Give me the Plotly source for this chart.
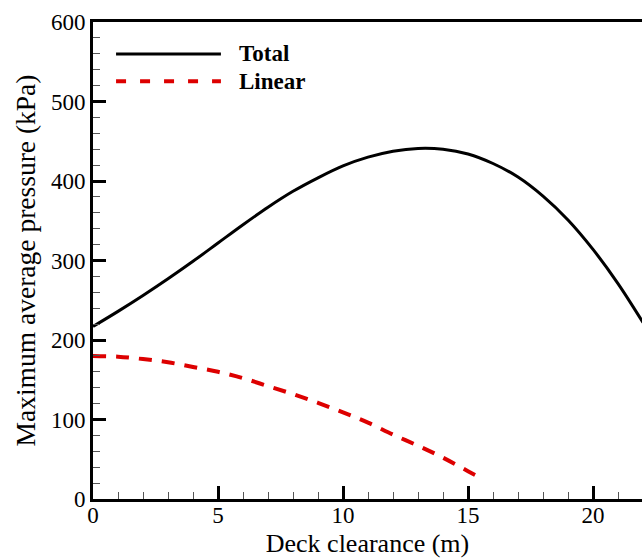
import plotly.graph_objects as go

# Data
total_x = [0, 1, 2, 3, 4, 5, 6, 7, 8, 9, 10, 11, 12, 13, 14, 15, 16, 17, 18, 19, 20, 21, 22]
total_y = [217, 236, 256, 277, 299, 322, 345, 367, 387, 404, 419, 430, 437.5, 441, 440, 434,
           422, 405, 381, 351, 314, 271, 222]

linear_x = [0, 1, 2, 3, 4, 5, 6, 7, 8, 9, 10, 11, 12, 13, 14, 15, 15.3]
linear_y = [180, 179, 176, 172, 166, 160, 152, 142, 132, 121, 109, 96, 81, 67, 52, 35, 30]

x_ticks = [0, 5, 10, 15, 20]
y_ticks = [0, 100, 200, 300, 400, 500, 600]

FONT = "Liberation Serif, Times New Roman, serif"
RED = "#dd0000"

fig = go.Figure()
fig.add_trace(go.Scatter(x=total_x, y=total_y, mode="lines", name="Total",
                         line=dict(color="black", width=3, shape="spline", smoothing=1.0)))
fig.add_trace(go.Scatter(x=linear_x, y=linear_y, mode="lines", name="Linear",
                         line=dict(color=RED, width=4, dash="13px,10px", shape="spline")))

axis_common = dict(
    showgrid=False, zeroline=False, showline=True, linecolor="black", linewidth=3,
    ticks="inside", ticklen=13, tickwidth=3, tickcolor="black",
    tickfont=dict(family=FONT, size=23, color="black"),
)

fig.update_xaxes(
    range=[0, 21.96], tickvals=x_ticks, mirror=True, ticklabelstandoff=-7,
    minor=dict(dtick=1, ticks="inside", ticklen=7, tickwidth=1, tickcolor="#555"),
    title_text="Deck clearance (m)", title_standoff=8,
    title_font=dict(family=FONT, size=26, color="black"), **axis_common)
fig.update_yaxes(
    range=[0, 600], tickvals=y_ticks,
    minor=dict(dtick=20, ticks="inside", ticklen=7, tickwidth=1, tickcolor="#555"),
    title_text="Maximum average pressure (kPa)", title_standoff=8,
    title_font=dict(family=FONT, size=27.5, color="black"), **axis_common)

# Legend drawn in the upper-left corner of the plot area
legend_items = [("Total", "black", 3, "solid", 0.933), ("Linear", RED, 4, "10px,14px", 0.876)]
for label, color, width, dash, yp in legend_items:
    fig.add_shape(type="line", xref="paper", yref="paper", x0=0.042, x1=0.233, y0=yp, y1=yp,
                  line=dict(color=color, width=width, dash=dash))
    fig.add_annotation(xref="paper", yref="paper", x=0.262, y=yp, text="<b>%s</b>" % label,
                       showarrow=False, xanchor="left", yanchor="middle",
                       font=dict(family=FONT, size=23, color="black"))

fig.update_layout(
    width=642, height=559, showlegend=False,
    margin=dict(l=93, r=0, t=22, b=60),
    plot_bgcolor="white", paper_bgcolor="white",
)

fig.write_html("out.html")
